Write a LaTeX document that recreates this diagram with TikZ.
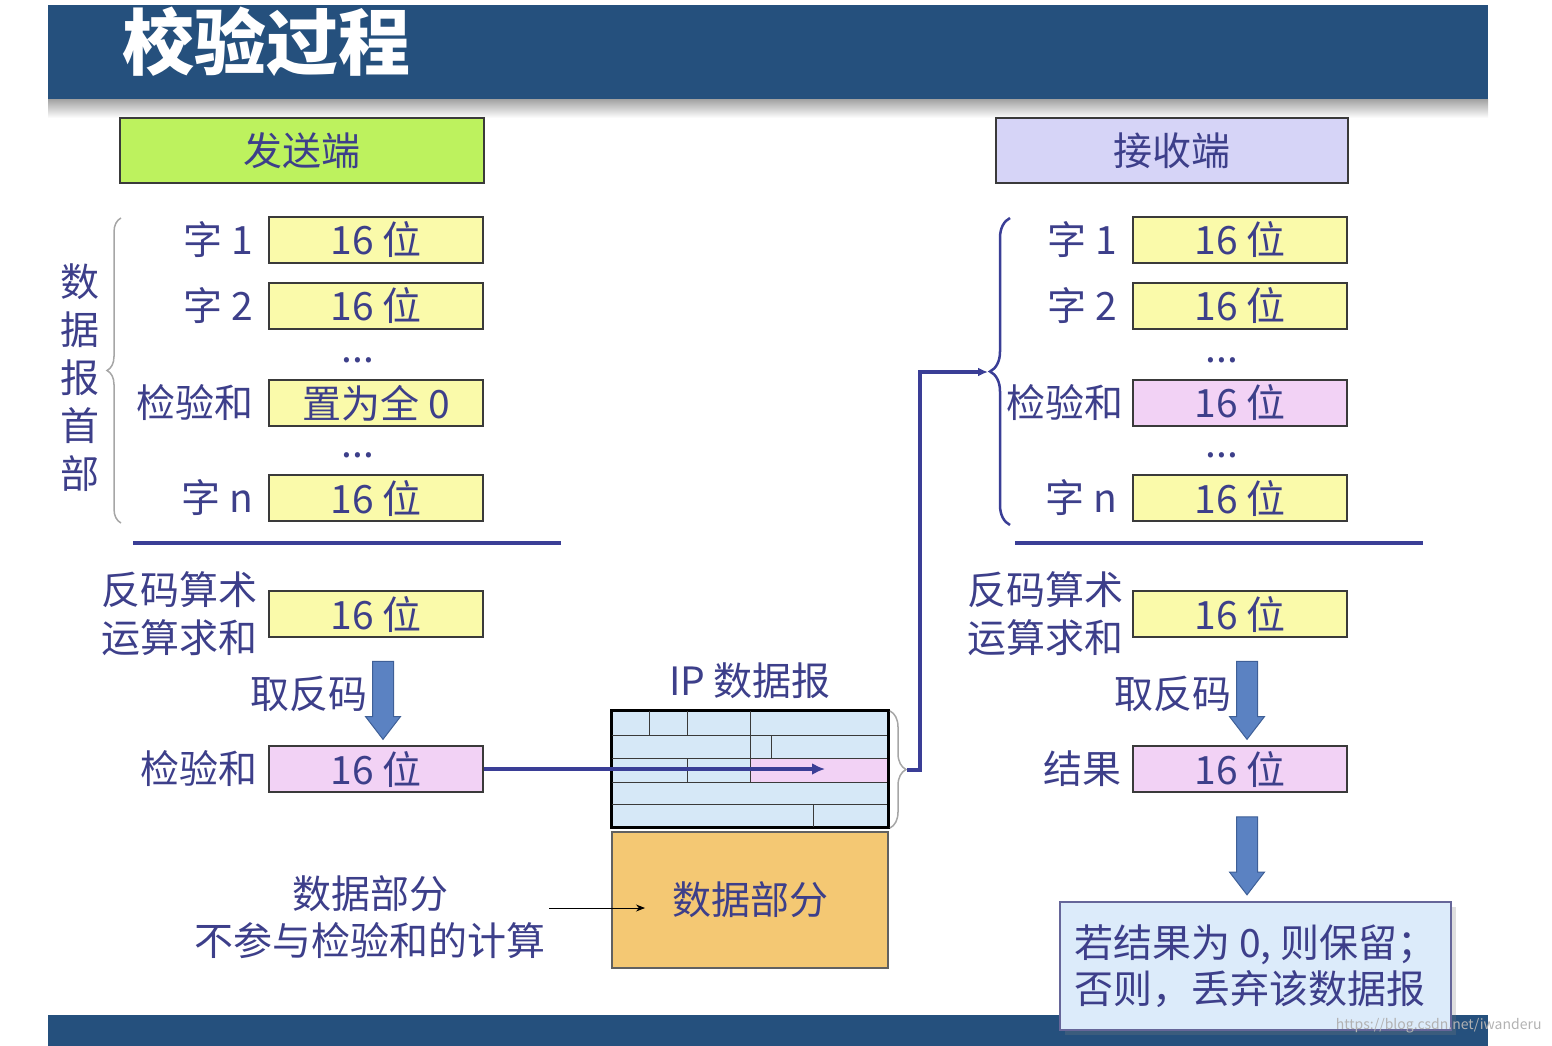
\documentclass[tikz,border=0pt]{standalone}
\usepackage{fontspec}
\setmainfont{Noto Sans CJK SC}
\usepackage{tikz}
\usetikzlibrary{arrows.meta,positioning,shapes.arrows,decorations.pathreplacing,shadows}
\definecolor{bar}{HTML}{25507D}
\definecolor{ink}{HTML}{3D3F8A}
\definecolor{navy}{HTML}{3A3E96}
\definecolor{edge}{HTML}{3A3A3A}
\definecolor{pale}{HTML}{FAFAAA}
\definecolor{rose}{HTML}{F2D2F5}
\definecolor{lime}{HTML}{BDF25E}
\definecolor{lilac}{HTML}{D6D4F7}
\definecolor{iphead}{HTML}{D6E8F7}
\definecolor{ipdata}{HTML}{F4C873}
\definecolor{verdict}{HTML}{DCEBFA}
\definecolor{flowfill}{HTML}{5B82C2}
\definecolor{flowedge}{HTML}{3E5F97}

\begin{document}
\begin{tikzpicture}[
    x=1pt, y=-1pt,
    every node/.style={font=\fontsize{39}{46}\selectfont, text=ink},
    word/.style={rectangle, draw=edge, line width=1.5pt, fill=pale, minimum width=214pt, minimum height=46pt, inner sep=0pt},
    cksum/.style={word, fill=rose},
    lbl/.style={inner sep=1pt},
    side/.style={rectangle, draw=edge, line width=1.5pt, minimum height=65pt, inner sep=0pt},
    flow/.style={single arrow, draw=flowedge, fill=flowfill, line width=1pt, minimum width=34pt, minimum height=78pt, single arrow head extend=7pt, single arrow tip angle=75, inner xsep=0pt, inner ysep=10pt, rotate=-90},
    link/.style={-{Latex[length=13pt,width=12pt]}, line width=3.5pt, color=navy},
    rule/.style={line width=3.5pt, color=navy},
    curly/.style={decorate, decoration={brace, amplitude=#1}, line width=1.5pt}
]
\useasboundingbox (0,0) rectangle (1552,1046);
\fill[bar] (48,5) rectangle (1488,100);
\shade[top color=black!35, bottom color=white] (48,100) rectangle (1488,118);
\fill[bar] (48,1015) rectangle (1488,1046);
\node[text=white, font=\fontsize{72}{80}\selectfont\bfseries] (title) at (266,42) {校验过程};

\node[side, fill=lime, minimum width=364pt] (sender) at (302,150.5) {发送端};
\node[side, fill=lilac, minimum width=352pt] (receiver) at (1172,150.5) {接收端};

\node[word] (txw1) at (376,240) {16 位};
\node[word] (txw2) at (376,306) {16 位};
\node[word] (txck) at (376,403) {置为全 0};
\node[word] (txwn) at (376,498) {16 位};
\node[lbl, left=14pt of txw1] (txl1) {字 1};
\node[lbl, left=14pt of txw2] (txl2) {字 2};
\node[lbl, left=14pt of txck] (txlck) {检验和};
\node[lbl, left=14pt of txwn] (txln) {字 n};
\node[anchor=base] (txdots1) at (358,362) {...};
\node[anchor=base] (txdots2) at (358,457) {...};
\node[align=center, font=\fontsize{39}{48}\selectfont] (txside) at (80,378) {数\\据\\报\\首\\部};
\draw[curly=14pt, gray!70] (121,523) -- (121,218);

\node[word] (txsum) at (376,614) {16 位};
\node[lbl, left=10pt of txsum, align=left, font=\fontsize{39}{48}\selectfont] (txlsum) {反码算术\\运算求和};
\node[flow] (txflip) at (383,693.5) {};
\node[lbl, left=14pt of txflip.center] (txlflip) {取反码};
\node[cksum] (txout) at (376,769) {16 位};
\node[lbl, left=10pt of txout] (txlout) {检验和};
\draw[rule] (133,543) -- (561,543);

\node[rectangle, draw=black, line width=2pt, fill=iphead, minimum width=276pt, minimum height=116pt, inner sep=0pt] (ipbox) at (750,769) {};
\fill[rose] (750,758) rectangle (887,782);
\draw[edge, line width=1pt] (612,735) -- (887,735) (612,758) -- (887,758) (612,782) -- (887,782) (612,804) -- (887,804);
\draw[edge, line width=1pt] (649,711) -- (649,735) (687,711) -- (687,735) (750,711) -- (750,782) (771,735) -- (771,758) (687,758) -- (687,782) (813,804) -- (813,827);
\draw[black, line width=2.5pt] (ipbox.north west) rectangle (ipbox.south east);
\node[above=8pt of ipbox] (iplabel) {IP 数据报};
\node[rectangle, draw=edge!80, line width=1.5pt, fill=ipdata, minimum width=276pt, minimum height=136pt, inner sep=0pt] (ipbody) at (750,900) {数据部分};
\draw[curly=16pt, gray!70] (890,711) -- (890,828);
\coordinate (iptip) at (907,770);

\node[align=center, font=\fontsize{39}{47}\selectfont] (note) at (370,917) {数据部分\\不参与检验和的计算};
\coordinate (datain) at (645,908);
\draw[-{Stealth[length=9pt,width=7pt]}, line width=1pt, black] (note.east |- datain) -- (datain);
\coordinate (ckin) at (825,770);
\draw[link] (txout.east) -- (txout.east -| ckin);

\node[word] (rxw1) at (1240,240) {16 位};
\node[word] (rxw2) at (1240,306) {16 位};
\node[cksum] (rxck) at (1240,403) {16 位};
\node[word] (rxwn) at (1240,498) {16 位};
\node[lbl, left=14pt of rxw1] (rxl1) {字 1};
\node[lbl, left=14pt of rxw2] (rxl2) {字 2};
\node[lbl, left=8pt of rxck] (rxlck) {检验和};
\node[lbl, left=14pt of rxwn] (rxln) {字 n};
\node[anchor=base] (rxdots1) at (1222,362) {...};
\node[anchor=base] (rxdots2) at (1222,457) {...};
\draw[curly=20pt, navy, line width=2.5pt] (1010,525) -- (1010,218);
\coordinate (rxtip) at (988,372);
\draw[link, -{Latex[length=10pt,width=9pt]}] (iptip) -- ++(13,0) |- (rxtip);

\node[word] (rxsum) at (1240,614) {16 位};
\node[lbl, left=8pt of rxsum, align=left, font=\fontsize{39}{48}\selectfont] (rxlsum) {反码算术\\运算求和};
\node[flow] (rxflip) at (1247,693.5) {};
\node[lbl, left=14pt of rxflip.center] (rxlflip) {取反码};
\node[cksum] (rxout) at (1240,769) {16 位};
\node[lbl, left=10pt of rxout] (rxlout) {结果};
\draw[rule] (1015,543) -- (1423,543);
\node[flow] (rxjudge) at (1247,849) {};

\node[rectangle, draw=gray!80!blue, line width=1.5pt, fill=verdict, minimum width=391pt, minimum height=128pt, align=left, drop shadow={shadow xshift=5pt, shadow yshift=-5pt, opacity=0.25}] (verdictbox) at (1255.5,966) {若结果为 0, 则保留；\\否则，丢弃该数据报};
\node[text=gray!60, font=\fontsize{14}{16}\selectfont, anchor=east] (mark) at (1545,1026) {https://blog.csdn.net/iwanderu};
\end{tikzpicture}
\end{document}
